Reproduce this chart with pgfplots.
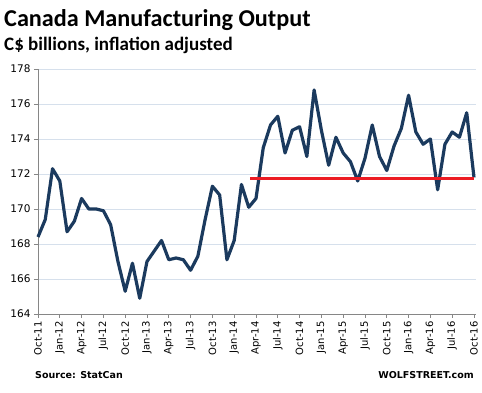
\documentclass[border=0pt]{standalone}
\usepackage{pgfplots}
\pgfplotsset{compat=1.18}
\usepackage{fontspec}
\setmainfont{DejaVu Sans}
\newfontfamily\titlefont{Carlito}
\definecolor{navy}{HTML}{1B3A5E}
\definecolor{redline}{HTML}{EC1C24}
\definecolor{gridc}{HTML}{D6E0EC}
\definecolor{axisc}{HTML}{868686}
\pgfplotstableread{
i v
0 168.4
1 169.4
2 172.3
3 171.6
4 168.7
5 169.3
6 170.6
7 170.0
8 170.0
9 169.9
10 169.1
11 167.0
12 165.3
13 166.9
14 164.9
15 167.0
16 167.6
17 168.2
18 167.1
19 167.2
20 167.1
21 166.5
22 167.3
23 169.4
24 171.3
25 170.8
26 167.1
27 168.2
28 171.4
29 170.1
30 170.6
31 173.5
32 174.8
33 175.3
34 173.2
35 174.5
36 174.7
37 173.0
38 176.8
39 174.5
40 172.5
41 174.1
42 173.2
43 172.7
44 171.6
45 172.9
46 174.8
47 173.0
48 172.2
49 173.6
50 174.6
51 176.5
52 174.4
53 173.7
54 174.0
55 171.1
56 173.7
57 174.4
58 174.1
59 175.5
60 171.8
}\output
\begin{document}
\begin{tikzpicture}
\begin{axis}[
  at={(38pt,79pt)}, anchor=south west,
  scale only axis, width=437.8pt, height=245pt,
  xmin=0, xmax=60.25, ymin=164, ymax=178,
  axis lines*=left,
  axis line style={axisc, line width=0.8pt},
  xtick={0,3,...,60},
  xticklabels={Oct-11,Jan-12,Apr-12,Jul-12,Oct-12,Jan-13,Apr-13,Jul-13,Oct-13,Jan-14,Apr-14,Jul-14,Oct-14,Jan-15,Apr-15,Jul-15,Oct-15,Jan-16,Apr-16,Jul-16,Oct-16},
  ytick={164,166,...,178},
  ymajorgrids, grid style={gridc, line width=0.8pt},
  tick align=outside, major tick length=4pt,
  tick style={axisc, line width=0.8pt},
  x tick label style={rotate=90, anchor=east, font=\fontsize{10}{12}\selectfont},
  y tick label style={font=\fontsize{10.5}{12}\selectfont},
  /pgf/number format/assume math mode=true,
  clip=false,
]
\addplot[navy, line width=3.2pt, line join=round] table[x=i, y=v] {\output};
\addplot[redline, line width=3pt] coordinates {(29.2,171.75) (60,171.75)};
\end{axis}
\node[anchor=base west, inner sep=0, font=\titlefont\bfseries\fontsize{24.2}{24}\selectfont] at (4pt,366pt) {Canada Manufacturing Output};
\node[anchor=base west, inner sep=0, font=\titlefont\bfseries\fontsize{19}{19}\selectfont] at (4pt,342pt) {C\$ billions, inflation adjusted};
\node[anchor=base west, inner sep=0, font=\bfseries\fontsize{9.5}{11}\selectfont] at (35pt,14pt) {Source: StatCan};
\node[anchor=base east, inner sep=0, font=\bfseries\fontsize{9.5}{11}\selectfont] at (474pt,14pt) {WOLFSTREET.com};
\path (0pt,0pt) rectangle (482pt,393pt);
\end{tikzpicture}
\end{document}
